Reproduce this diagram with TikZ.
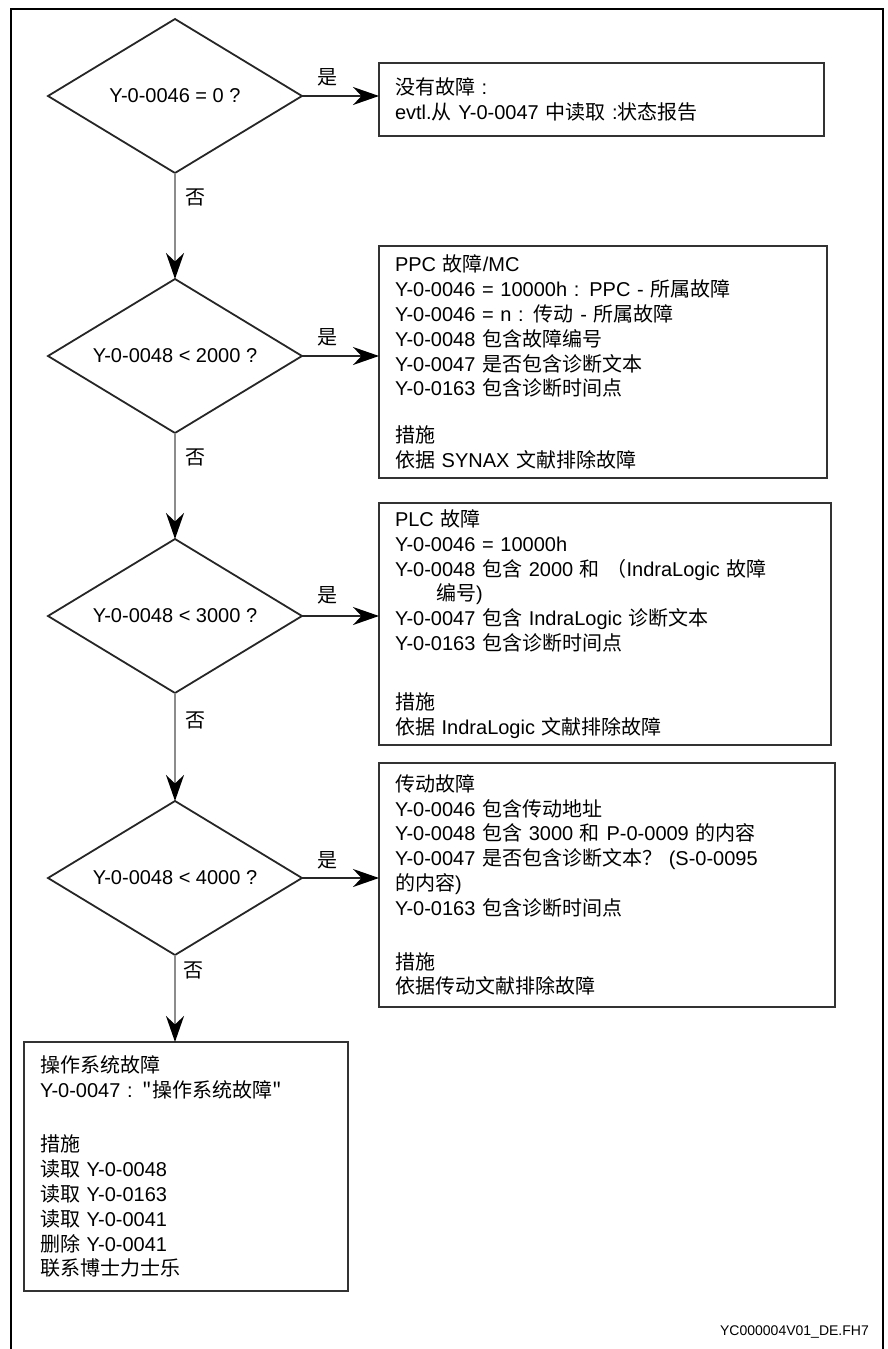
\documentclass[tikz,border=0pt]{standalone}
\usepackage{fontspec}
\setmainfont{Liberation Sans}
\newfontfamily\cjkf{Noto Sans CJK SC}
\newcommand\zh[1]{{\cjkf #1}}
\usetikzlibrary{shapes.geometric,arrows.meta}
\begin{document}
\begin{tikzpicture}[x=1pt,y=-1pt,
  txt/.style={font=\fontsize{20}{24.8}\selectfont},
  dia/.style={diamond, draw=black!85, line width=1.8pt, minimum width=254pt, minimum height=154pt, inner sep=0pt, outer sep=0pt, shape aspect=1.65, txt},
  box/.style={draw=black!80, line width=2.2pt, anchor=north west, align=left, inner xsep=16pt, inner ysep=0pt, outer sep=0pt, txt},
  hline/.style={draw=black!85, line width=1.3pt, -{Stealth[length=26pt,width=18pt,color=black]}},
  vline/.style={draw=black!45, line width=1.6pt, -{Stealth[length=26pt,width=18pt,color=black]}},
  lbl/.style={txt, inner sep=0pt}]
\useasboundingbox (0,0) rectangle (887,1349);
\draw[line width=2.5pt] (11,1349) -- (11,9) -- (883,9) -- (883,1349);

% decisions
\node[dia] (d1) at (175,96) {Y-0-0046 = 0 ?};
\node[dia] (d2) at (175,356) {Y-0-0048 < 2000 ?};
\node[dia] (d3) at (175,616) {Y-0-0048 < 3000 ?};
\node[dia] (d4) at (175,878) {Y-0-0048 < 4000 ?};

% boxes
\node[box, text width=413pt, minimum height=73pt] (b1) at (379,63)
 {\zh{没有故障} :\\
  evtl.\zh{从} Y-0-0047 \zh{中读取} :\zh{状态报告}};
\node[box, text width=416pt, minimum height=232pt] (b2) at (379,246)
 {PPC \zh{故障}/MC\\
  Y-0-0046 = 10000h : PPC - \zh{所属故障}\\
  Y-0-0046 = n : \zh{传动} - \zh{所属故障}\\
  Y-0-0048 \zh{包含故障编号}\\
  Y-0-0047 \zh{是否包含诊断文本}\\
  Y-0-0163 \zh{包含诊断时间点}\\[22pt]
  \zh{措施}\\
  \zh{依据} SYNAX \zh{文献排除故障}};
\node[box, text width=420pt, minimum height=242pt] (b3) at (379,503)
 {PLC \zh{故障}\\
  Y-0-0046 = 10000h\\
  Y-0-0048 \zh{包含} 2000 \zh{和 （}IndraLogic \zh{故障}\\
  \hspace*{41pt}\zh{编号}) \\
  Y-0-0047 \zh{包含} IndraLogic \zh{诊断文本}\\
  Y-0-0163 \zh{包含诊断时间点}\\[34pt]
  \zh{措施}\\
  \zh{依据} IndraLogic \zh{文献排除故障}};
\node[box, text width=424pt, minimum height=244pt] (b4) at (379,763)
 {\zh{传动故障}\\
  Y-0-0046 \zh{包含传动地址}\\
  Y-0-0048 \zh{包含} 3000 \zh{和} P-0-0009 \zh{的内容}\\
  Y-0-0047 \zh{是否包含诊断文本？} (S-0-0095\\
  \zh{的内容})\\
  Y-0-0163 \zh{包含诊断时间点}\\[29pt]
  \zh{措施}\\
  \zh{依据传动文献排除故障}};
\node[box, text width=292pt, minimum height=249pt] (b5) at (24,1042)
 {\zh{操作系统故障}\\
  Y-0-0047 : \zh{"操作系统故障"}\\[30pt]
  \zh{措施}\\
  \zh{读取} Y-0-0048\\
  \zh{读取} Y-0-0163\\
  \zh{读取} Y-0-0041\\
  \zh{删除} Y-0-0041\\
  \zh{联系博士力士乐}};

% connectors
\draw[hline] (d1.east) -- (d1.east -| b1.west);
\draw[hline] (d2.east) -- (d2.east -| b2.west);
\draw[hline] (d3.east) -- (d3.east -| b3.west);
\draw[hline] (d4.east) -- (d4.east -| b4.west);
\draw[vline] (d1.south) -- (d2.north);
\draw[vline] (d2.south) -- (d3.north);
\draw[vline] (d3.south) -- (d4.north);
\draw[vline] (d4.south) -- (d4.south |- b5.north);

% labels
\node[lbl] (y1) at (327,77) {\zh{是}};
\node[lbl] (y2) at (327,337) {\zh{是}};
\node[lbl] (y3) at (327,595) {\zh{是}};
\node[lbl] (y4) at (327,860) {\zh{是}};
\node[lbl] (n1) at (195,197) {\zh{否}};
\node[lbl] (n2) at (195,457) {\zh{否}};
\node[lbl] (n3) at (195,720) {\zh{否}};
\node[lbl] (n4) at (193,970) {\zh{否}};

\node[anchor=east, inner sep=0pt, font=\fontsize{14}{16}\selectfont] (fn) at (869,1332) {YC000004V01\_DE.FH7};
\end{tikzpicture}
\end{document}
